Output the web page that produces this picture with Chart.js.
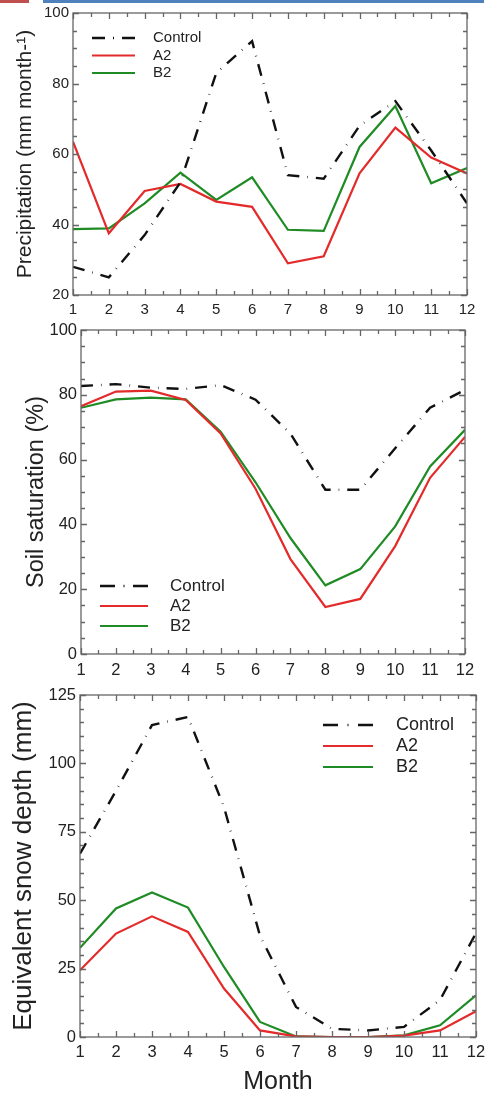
<!DOCTYPE html>
<html>
<head>
<meta charset="utf-8">
<script src="https://cdn.jsdelivr.net/npm/chart.js@4.4.1/dist/chart.umd.min.js"></script>
<style>
    html, body { margin: 0; padding: 0; background: #fff; }
    body { width: 488px; height: 1097px; position: relative; overflow: hidden; }
    canvas { position: absolute; left: 0; }
    .bar { position: absolute; top: 0; height: 3px; }
</style>
</head>
<body>
<canvas id="precipChart" width="488" height="322" style="top:0"></canvas>
<canvas id="soilChart" width="488" height="358" style="top:322px"></canvas>
<canvas id="snowChart" width="488" height="417" style="top:680px"></canvas>
<div class="bar" style="left:0;width:29px;background:#c0504d"></div>
<div class="bar" style="left:43px;width:441px;background:#4f81bd"></div>
<script>
    'use strict';

    // Months on the x axis
    const months = [1, 2, 3, 4, 5, 6, 7, 8, 9, 10, 11, 12];
    const seriesNames = ['Control', 'A2', 'B2'];

    // Precipitation (mm month-1)
    const precipControl = [28, 25, 37, 52, 83, 92, 54, 53, 68, 75, 61, 46];
    const precipA2 = [63.5, 37.5, 49.5, 51.5, 46.5, 45, 29, 31, 54.5, 67.5, 59, 54.5];
    const precipB2 = [38.7, 38.9, 46, 54.7, 47, 53.4, 38.5, 38.2, 62, 73.6, 51.7, 56];
    const precipTicks = [20, 40, 60, 80, 100];

    // Soil saturation (%)
    const soilControl = [82.7, 83.3, 82.2, 81.8, 83, 78.5, 68, 50.7, 50.7, 63.5, 76, 81.5];
    const soilA2 = [76.5, 81, 81.3, 78.4, 68.1, 51, 29.3, 14.5, 17, 33.3, 54.4, 67];
    const soilB2 = [76, 78.6, 79.1, 78.6, 68.6, 53, 35.8, 21.2, 26.2, 39.4, 57.9, 69.2];
    const soilTicks = [0, 20, 40, 60, 80, 100];

    // Equivalent snow depth (mm)
    const snowControl = [67, 90, 114, 117, 84, 37, 11, 3, 2.4, 3.7, 13.5, 38];
    const snowA2 = [24.4, 37.8, 44.1, 38.4, 17.7, 2.4, 0.2, 0, 0, 0.5, 2.4, 9.4];
    const snowB2 = [32.6, 47, 52.8, 47.3, 25.6, 5.5, 0.2, 0, 0, 0.6, 4.3, 15.2];
    const snowTicks = [0, 25, 50, 75, 100, 125];

    const FONT = '"Liberation Sans", Arial, Helvetica, sans-serif';
    const COLORS = { control: '#111', a2: '#e32b2b', b2: '#1f8b24', frame: '#666', text: '#222' };

    function toPoints(values) {
        return months.map((m, i) => ({ x: m, y: values[i] }));
    }

    function makeDatasets(control, a2, b2) {
        return [
            { label: seriesNames[0], data: toPoints(control), borderColor: COLORS.control,
              borderWidth: 2.4, borderDash: [12, 8, 0.6, 8], pointRadius: 0, tension: 0 },
            { label: seriesNames[1], data: toPoints(a2), borderColor: COLORS.a2,
              borderWidth: 2.2, pointRadius: 0, tension: 0 },
            { label: seriesNames[2], data: toPoints(b2), borderColor: COLORS.b2,
              borderWidth: 2.2, pointRadius: 0, tension: 0 }
        ];
    }

    /**
     * Box frame with inward ticks on all four sides
     */
    const frameTicks = {
        id: 'frameTicks',
        afterDatasetsDraw(chart, args, opts) {
            const { ctx, chartArea: a, scales: { x, y } } = chart;
            ctx.save();
            ctx.strokeStyle = COLORS.frame;
            ctx.lineWidth = 1.3;
            ctx.beginPath();
            for (let v = x.min; v <= x.max + 1e-9; v += 0.5) {
                const px = Math.round(x.getPixelForValue(v)) + 0.5;
                const len = Number.isInteger(v) ? 6 : 4;
                ctx.moveTo(px, a.bottom); ctx.lineTo(px, a.bottom - len);
                ctx.moveTo(px, a.top); ctx.lineTo(px, a.top + len);
            }
            for (let v = y.min; v <= y.max + 1e-9; v += opts.minor) {
                const py = Math.round(y.getPixelForValue(v)) + 0.5;
                const len = (v % opts.major === 0) ? 6 : 4;
                ctx.moveTo(a.left, py); ctx.lineTo(a.left + len, py);
                ctx.moveTo(a.right, py); ctx.lineTo(a.right - len, py);
            }
            ctx.stroke();
            ctx.strokeRect(a.left, a.top, a.width, a.height);
            ctx.restore();
        }
    };

    /**
     * Legend drawn inside the plot area
     */
    const innerLegend = {
        id: 'innerLegend',
        afterDraw(chart, args, opts) {
            const { ctx, chartArea: a } = chart;
            ctx.save();
            ctx.font = `${opts.size}px ${FONT}`;
            ctx.textBaseline = 'middle';
            chart.data.datasets.forEach((ds, i) => {
                const yy = a.top + opts.y + i * opts.gap;
                ctx.strokeStyle = ds.borderColor;
                ctx.lineWidth = ds.borderWidth;
                ctx.setLineDash(ds.borderDash ? opts.dash : []);
                ctx.beginPath();
                ctx.moveTo(a.left + opts.x, yy);
                ctx.lineTo(a.left + opts.x + opts.len, yy);
                ctx.stroke();
                ctx.setLineDash([]);
                ctx.fillStyle = COLORS.text;
                ctx.fillText(ds.label, a.left + opts.textX, yy);
            });
            ctx.restore();
        }
    };

    function makePanel(id, cfg) {
        const ctx = document.getElementById(id);
        return new Chart(ctx, {
            type: 'line',
            data: { datasets: makeDatasets(cfg.control, cfg.a2, cfg.b2) },
            options: {
                responsive: false,
                animation: false,
                events: [],
                layout: { padding: cfg.padding },
                plugins: {
                    legend: { display: false },
                    tooltip: { enabled: false },
                    frameTicks: { minor: 5, major: cfg.ticks[1] - cfg.ticks[0] },
                    innerLegend: cfg.legend
                },
                scales: {
                    x: {
                        type: 'linear',
                        min: 1,
                        max: 12,
                        grid: { display: false, drawTicks: false },
                        border: { display: false },
                        ticks: {
                            stepSize: 1, autoSkip: false, maxRotation: 0,
                            padding: cfg.xPad, color: COLORS.text,
                            font: { family: FONT, size: cfg.tickSize }
                        },
                        title: cfg.xTitle || { display: false },
                        afterFit: s => {
                            s.height = cfg.xHeight;
                            s.paddingLeft = s.paddingRight = 0;
                        }
                    },
                    y: {
                        min: cfg.ticks[0],
                        max: cfg.ticks[cfg.ticks.length - 1],
                        grid: { display: false, drawTicks: false },
                        border: { display: false },
                        afterBuildTicks: s => { s.ticks = cfg.ticks.map(v => ({ value: v })); },
                        ticks: {
                            padding: 4, color: COLORS.text,
                            font: { family: FONT, size: cfg.tickSize }
                        },
                        title: {
                            display: true,
                            text: cfg.yTitle,
                            color: COLORS.text,
                            padding: { top: cfg.yTitlePad, bottom: 0 },
                            font: { family: FONT, size: cfg.yTitleSize, lineHeight: 1 }
                        },
                        afterFit: s => {
                            s.width = cfg.yWidth;
                            s.paddingTop = s.paddingBottom = 0;
                        }
                    }
                }
            },
            plugins: [frameTicks, innerLegend]
        });
    }

    function init() {
        makePanel('precipChart', {
            control: precipControl, a2: precipA2, b2: precipB2, ticks: precipTicks,
            padding: { left: 0, right: 21, top: 13, bottom: 0 },
            yWidth: 73, xHeight: 27, xPad: 5.5, tickSize: 15,
            yTitle: 'Precipitation (mm month-\u00b9)', yTitleSize: 21, yTitlePad: 14.5,
            legend: { x: 19, len: 43, textX: 80, y: 25, gap: 17.5, size: 15, dash: [13, 8, 1, 8] }
        });

        makePanel('soilChart', {
            control: soilControl, a2: soilA2, b2: soilB2, ticks: soilTicks,
            padding: { left: 0, right: 23, top: 8, bottom: 0 },
            yWidth: 81, xHeight: 26, xPad: 7, tickSize: 16.5,
            yTitle: 'Soil saturation (%)', yTitleSize: 23.5, yTitlePad: 25,
            legend: { x: 19, len: 48, textX: 89, y: 256, gap: 20, size: 17, dash: [15, 8.5, 1, 8.5] }
        });

        makePanel('snowChart', {
            control: snowControl, a2: snowA2, b2: snowB2, ticks: snowTicks,
            padding: { left: 0, right: 12, top: 15, bottom: 0 },
            yWidth: 80, xHeight: 60, xPad: 6, tickSize: 16.5,
            yTitle: 'Equivalent snow depth (mm)', yTitleSize: 26, yTitlePad: 11,
            xTitle: {
                display: true, text: 'Month', color: COLORS.text,
                padding: { top: 0, bottom: 2 },
                font: { family: FONT, size: 25, lineHeight: 1 }
            },
            legend: { x: 243, len: 50, textX: 316, y: 30, gap: 21, size: 18, dash: [15, 9.5, 1, 9.5] }
        });
    }

    init();
</script>
</body>
</html>
